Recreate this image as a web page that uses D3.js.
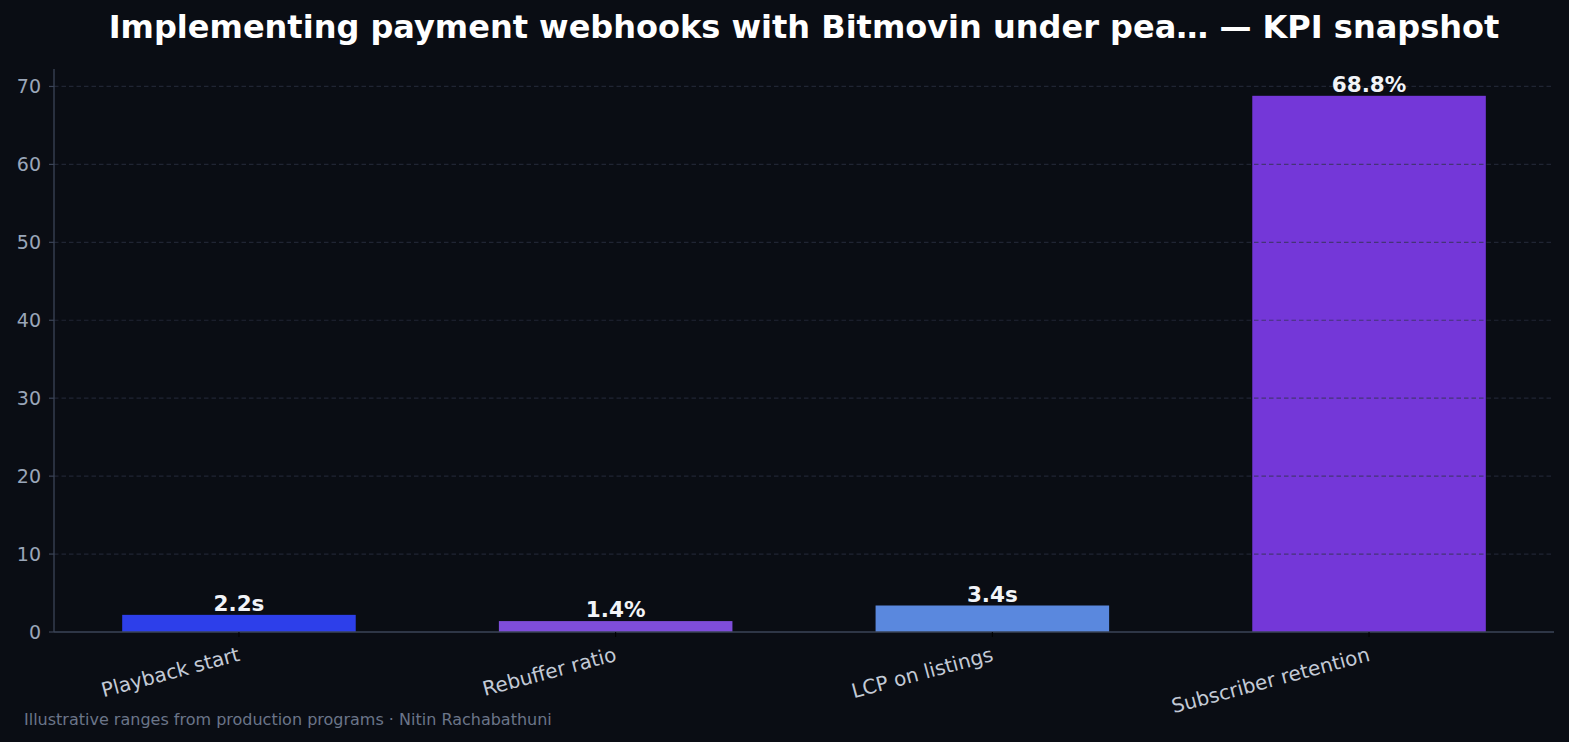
<!DOCTYPE html>
<html>
<head>
<meta charset="utf-8">
<script src="https://cdn.jsdelivr.net/npm/d3@7"></script>
<style>
  html, body { margin: 0; padding: 0; background: #0a0d14; }
  svg { display: block; font-family: "DejaVu Sans", sans-serif; }
</style>
</head>
<body>
<svg width="1569" height="742"></svg>
<script>
var svg = d3.select('svg');

// data
var categories = ["Playback start", "Rebuffer ratio", "LCP on listings", "Subscriber retention"];
var values = [2.2, 1.4, 3.4, 68.8];
var valueLabels = ["2.2s", "1.4%", "3.4s", "68.8%"];
var barColors = ["#2d3fea", "#7f4dda", "#5a88de", "#7437d8"];
var yTicks = [0, 10, 20, 30, 40, 50, 60, 70];

var plotLeft = 54, plotRight = 1554, plotTop = 69, plotBottom = 632;

svg.append("rect").attr("width", 1569).attr("height", 742).attr("fill", "#0a0d14");

// x in category units, like matplotlib
var x = d3.scaleLinear().domain([-0.491, 3.491]).range([plotLeft, plotRight]);
var y = d3.scaleLinear().domain([0, 68.8 * 1.05]).range([plotBottom, plotTop]);
var barW = 0.62;

// bars
svg.selectAll("rect.bar")
    .data(values)
    .enter()
    .append("rect")
    .attr("class", "bar")
    .attr("x", function (d, i) { return x(i - barW / 2); })
    .attr("width", function () { return x(barW) - x(0); })
    .attr("y", function (d) { return y(d); })
    .attr("height", function (d) { return plotBottom - y(d); })
    .attr("fill", function (d, i) { return barColors[i]; });

// grid on top
svg.selectAll("line.grid")
    .data(yTicks.slice(1))
    .enter()
    .append("line")
    .attr("x1", plotLeft).attr("x2", plotRight)
    .attr("y1", function (d) { return y(d); })
    .attr("y2", function (d) { return y(d); })
    .attr("stroke", "#2c3344")
    .attr("stroke-opacity", 0.65)
    .attr("stroke-width", 1.2)
    .attr("stroke-dasharray", "4.5,3");

// spines
svg.append("line").attr("x1", plotLeft).attr("x2", plotLeft).attr("y1", plotTop).attr("y2", plotBottom)
    .attr("stroke", "#3b4457").attr("stroke-width", 1.3);
svg.append("line").attr("x1", plotLeft).attr("x2", plotRight).attr("y1", plotBottom).attr("y2", plotBottom)
    .attr("stroke", "#3b4457").attr("stroke-width", 1.3);

// y ticks
var yt = svg.selectAll("g.ytick").data(yTicks).enter().append("g")
    .attr("transform", function (d) { return "translate(0," + y(d) + ")"; });
yt.append("line").attr("x1", plotLeft - 5).attr("x2", plotLeft).attr("stroke", "#3b4457").attr("stroke-width", 1.2);
yt.append("text")
    .attr("x", plotLeft - 13)
    .attr("dy", "0.36em")
    .attr("text-anchor", "end")
    .attr("fill", "#9aa6b9")
    .attr("font-size", 19)
    .text(function (d) { return d; });

// x ticks
var xt = svg.selectAll("g.xtick").data(categories).enter().append("g")
    .attr("transform", function (d, i) { return "translate(" + x(i) + "," + plotBottom + ")"; });
xt.append("line").attr("y1", 0).attr("y2", 5).attr("stroke", "#000").attr("stroke-width", 1);
xt.append("text")
    .attr("transform", "translate(-2,14) rotate(-15)")
    .attr("text-anchor", "end")
    .attr("dy", "0.75em")
    .attr("fill", "#c3cad6")
    .attr("font-size", 20)
    .text(function (d) { return d; });

// value labels
svg.selectAll("text.val")
    .data(values)
    .enter()
    .append("text")
    .attr("x", function (d, i) { return x(i); })
    .attr("y", function (d) { return y(d) - 4; })
    .attr("text-anchor", "middle")
    .attr("fill", "#f2f4f8")
    .attr("font-size", 21.5)
    .attr("font-weight", "bold")
    .text(function (d, i) { return valueLabels[i]; });

// title
svg.append("text")
    .attr("x", 804)
    .attr("y", 38)
    .attr("text-anchor", "middle")
    .attr("fill", "#ffffff")
    .attr("font-size", 32)
    .attr("font-weight", "bold")
    .text("Implementing payment webhooks with Bitmovin under pea\u2026 \u2014 KPI snapshot");

// footer
svg.append("text")
    .attr("x", 24)
    .attr("y", 725)
    .attr("fill", "#6b7589")
    .attr("font-size", 16)
    .text("Illustrative ranges from production programs \u00b7 Nitin Rachabathuni");
</script>
</body>
</html>
